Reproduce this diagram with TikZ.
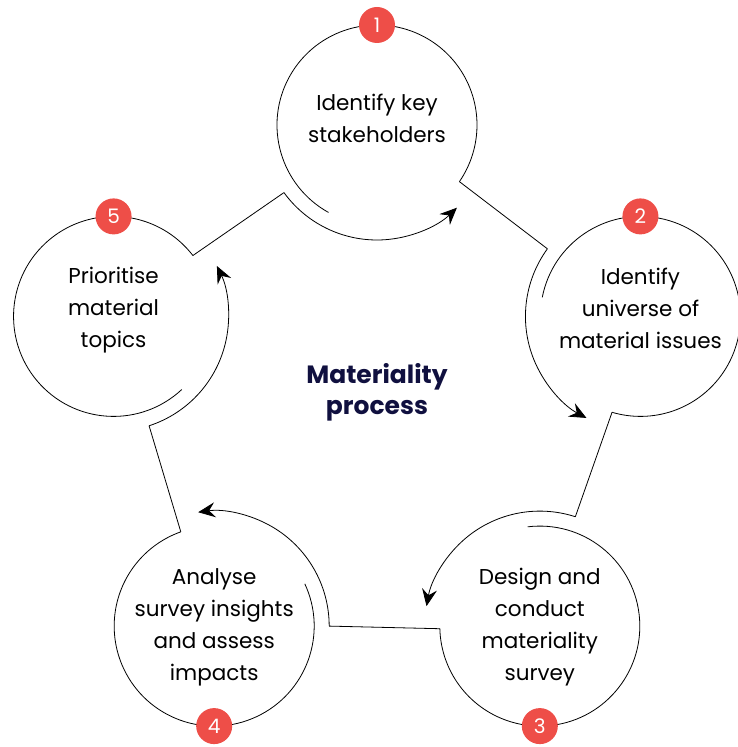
\documentclass[tikz,border=0pt]{standalone}
\usepackage{fontspec}
\setmainfont{Poppins}
\usepackage{xcolor}
\usetikzlibrary{arrows.meta}
\definecolor{badgered}{HTML}{EE4E48}
\definecolor{titlenavy}{HTML}{10103F}

\begin{document}
\begin{tikzpicture}[x=1pt,y=1pt,
  ring/.style={line width=0.8pt},
  ringarrow/.style={ring,-{Stealth[length=17pt,width=15pt,inset=6pt]}},
  stepbox/.style={align=center,font=\fontsize{21.5}{32}\selectfont},
  badge/.style={circle,fill=badgered,text=white,minimum size=36pt,inner sep=0pt,font=\fontsize{20}{20}\selectfont},
]
\useasboundingbox (-377,-345) rectangle (361,402);

% the five steps sit on a pentagon
\foreach \i/\a in {1/90,2/18,3/-54,4/-126,5/162}{
  \coordinate (c\i) at (\a:277);
  \draw[ring,shift={(c\i)}] (\a+151:100) arc[start angle=\a+151,end angle=\a-124.5,radius=100] coordinate (out\i);
  \draw[ringarrow,shift={(c\i)}] (\a+126:115) coordinate (in\i) arc[start angle=\a+126,end angle=\a+224,radius=115];
}

% links between the steps
\foreach \i/\j in {1/2,2/3,3/4,4/5,5/1}
  \draw[ring] (out\i) -- (in\j);

\node[stepbox] (step1) at ([yshift=7]c1) {Identify key\\stakeholders};
\node[stepbox] (step2) at ([yshift=8]c2) {Identify\\universe of\\material issues};
\node[stepbox] (step3) at ([yshift=-1]c3) {Design and\\conduct\\materiality\\survey};
\node[stepbox] (step4) at ([yshift=-1]c4) {Analyse\\survey insights\\and assess\\impacts};
\node[stepbox] (step5) at ([yshift=6]c5) {Prioritise\\material\\topics};

\node[badge] (num1) at ([yshift=100]c1) {1};
\node[badge] (num2) at ([yshift=100]c2) {2};
\node[badge] (num3) at ([yshift=-100]c3) {3};
\node[badge] (num4) at ([yshift=-100]c4) {4};
\node[badge] (num5) at ([yshift=100]c5) {5};

\node[align=center,text=titlenavy,font=\fontsize{25}{31}\selectfont\bfseries] (title) at (0,10) {Materiality\\process};
\end{tikzpicture}
\end{document}
